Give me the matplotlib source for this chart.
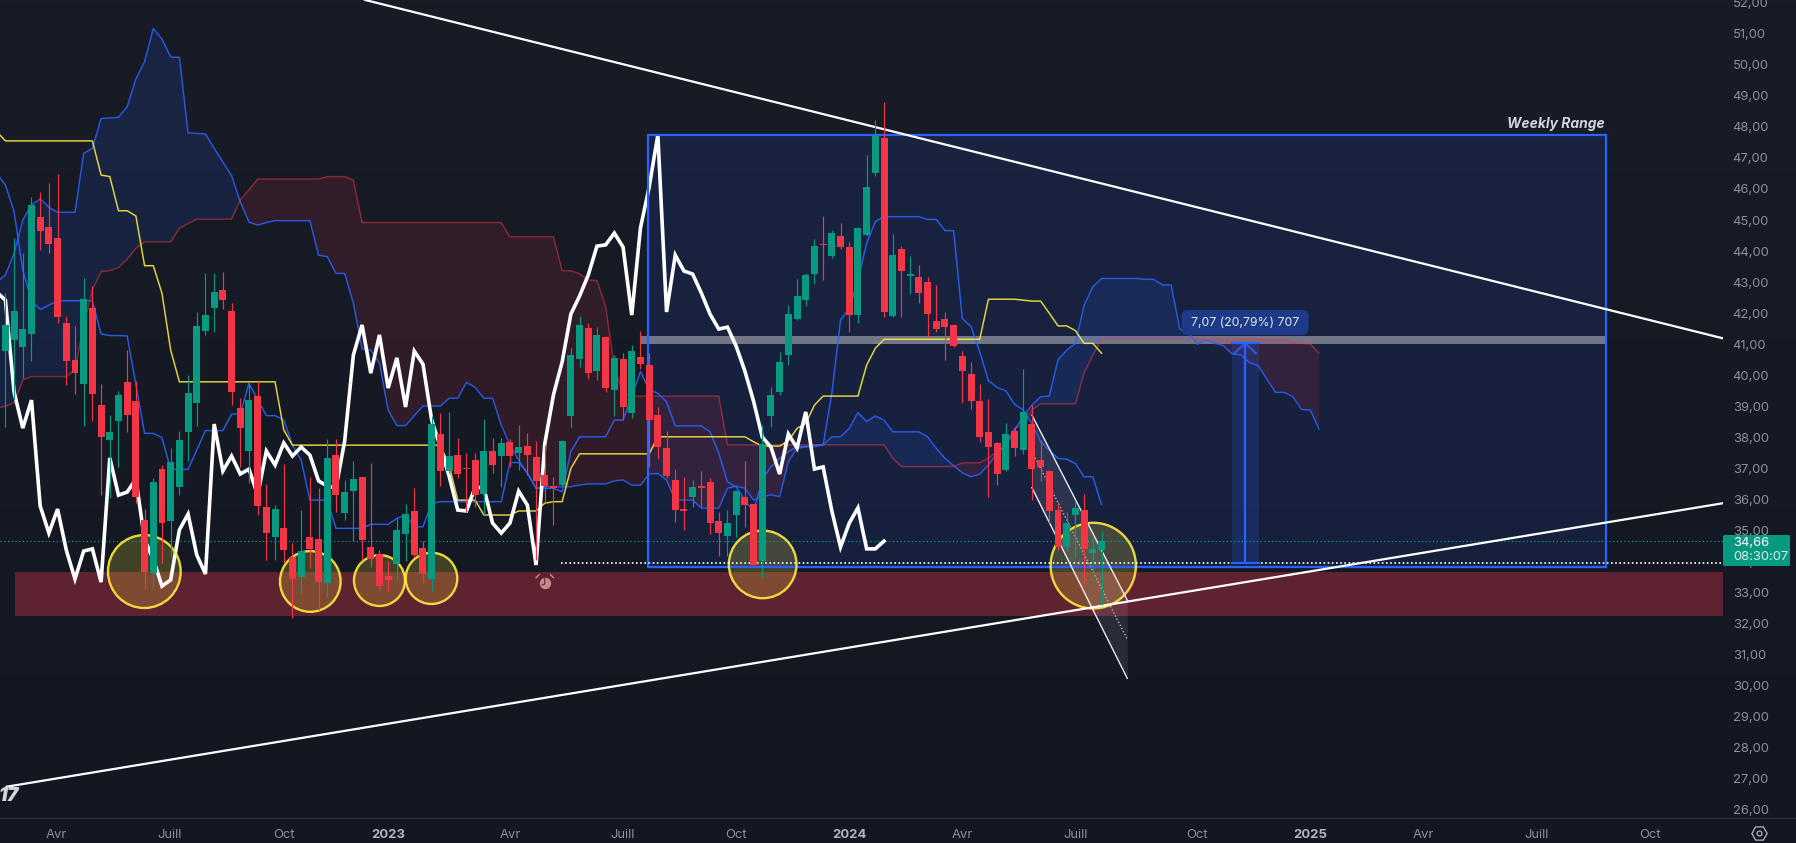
import numpy as np
import matplotlib
matplotlib.use("Agg")
import matplotlib.pyplot as plt
from matplotlib.patches import Ellipse, Rectangle, FancyBboxPatch
from matplotlib.lines import Line2D

plt.rcParams['font.family'] = ['Inter', 'DejaVu Sans']

opens = [40.79,41.14,40.92,41.33,45.11,44.78,44.42,41.68,40.49,39.72,
 42.17,39.04,37.92,38.53,39.78,39.17,35.34,33.63,36.98,35.31,
 36.40,38.17,39.11,41.43,42.17,42.75,42.07,38.95,37.56,39.33,
 35.76,34.79,35.08,34.16,33.50,34.79,34.73,33.31,37.43,35.57,
 36.27,36.72,34.47,34.24,33.54,33.92,34.89,35.63,34.44,33.44,
 38.11,36.92,37.43,37.02,37.27,36.18,37.56,37.40,37.85,37.50,
 37.72,37.37,36.79,36.43,36.47,38.69,40.52,41.52,40.14,41.23,
 39.53,40.52,38.79,40.59,40.33,38.72,37.66,36.63,35.69,36.08,
 36.44,36.56,35.31,34.82,35.50,36.08,35.85,34.02,38.69,39.46,
 40.65,41.81,42.43,43.26,44.23,43.84,44.49,44.13,41.94,44.52,
 46.51,47.64,41.91,44.07,43.20,43.17,43.00,41.75,41.81,41.62,
 40.62,40.04,39.17,38.17,37.82,36.95,38.21,37.59,38.43,37.27,
 36.92,35.66,34.47,35.50,35.66,34.28,34.37]
closes = [41.62,42.07,41.49,45.48,44.65,44.23,41.88,40.47,40.07,42.46,
 39.40,38.01,38.17,39.37,38.72,36.08,33.67,36.56,35.24,37.21,
 37.92,39.43,41.59,41.94,42.68,42.42,39.46,38.30,39.20,35.79,
 34.92,35.69,34.37,33.44,34.34,34.41,33.34,37.34,36.14,36.24,
 36.66,34.70,34.08,33.21,33.41,35.02,35.53,34.21,33.60,38.43,
 36.92,37.40,36.82,36.98,36.14,37.56,37.11,37.82,37.40,37.69,
 37.43,36.60,36.43,36.37,37.88,40.65,41.62,40.07,41.30,39.59,
 40.56,38.98,40.78,40.36,38.56,37.69,36.76,35.66,35.63,36.40,
 36.37,35.24,34.92,35.24,36.27,35.82,33.89,37.79,39.37,40.43,
 41.97,42.55,43.23,44.16,44.20,44.58,44.13,41.94,44.74,46.06,
 47.74,42.04,43.87,43.36,43.26,42.65,41.97,41.49,41.55,40.94,
 40.14,39.17,38.01,37.69,36.82,38.11,37.66,38.82,36.98,37.05,
 35.63,34.47,35.24,35.73,34.41,34.41,34.66]
highs = [42.64,44.41,43.93,45.75,45.91,46.20,46.48,41.91,41.59,43.12,
 42.88,39.72,38.72,39.48,40.81,39.82,35.68,36.69,37.11,37.66,
 38.21,40.01,42.04,43.29,43.29,43.33,42.33,39.27,39.74,39.82,
 36.50,35.82,37.14,34.59,35.66,36.74,36.36,37.95,37.95,36.63,
 37.24,36.74,37.17,34.37,34.02,35.39,35.85,36.37,34.66,38.69,
 38.79,38.82,37.98,37.49,37.51,38.59,37.97,37.97,37.95,38.40,
 38.14,37.88,37.76,36.71,37.91,40.88,41.91,41.68,41.55,41.25,
 40.65,40.72,40.98,41.43,40.72,38.98,38.21,36.98,36.73,36.63,
 36.92,36.69,35.60,35.66,36.31,37.24,35.87,38.40,39.62,40.75,
 42.26,43.10,43.30,44.39,45.13,44.68,44.90,44.29,44.76,47.09,
 48.22,48.80,44.55,44.16,43.84,43.55,43.17,42.91,42.04,41.65,
 40.78,40.43,39.72,39.23,37.85,38.46,38.32,40.20,39.04,37.92,
 36.94,35.92,35.59,35.93,36.18,34.83,34.98]
lows = [38.35,39.20,39.90,40.47,44.03,43.95,41.69,39.69,39.40,38.37,
 38.54,36.14,36.04,37.06,38.18,35.88,33.12,33.12,33.94,34.16,
 36.14,37.25,38.37,41.30,41.39,42.13,39.04,37.06,36.52,35.50,
 34.05,34.05,33.94,32.19,32.98,33.78,32.44,32.82,35.60,35.34,
 34.66,34.05,33.84,33.09,33.05,33.41,34.02,34.16,33.32,33.05,
 36.43,36.84,36.68,35.61,35.77,35.50,36.84,36.41,37.06,36.95,
 36.79,34.05,35.88,35.18,36.43,38.34,40.28,39.88,39.85,39.46,
 38.69,38.56,38.64,40.20,37.06,37.30,36.70,35.29,35.02,35.77,
 35.77,34.89,34.18,34.18,34.80,35.12,33.89,33.51,38.34,39.37,
 40.33,41.78,42.23,42.94,43.07,43.78,44.07,41.39,41.68,44.50,
 46.42,41.88,41.88,41.88,42.62,42.33,41.23,41.39,40.49,40.91,
 39.11,38.91,37.85,36.08,36.47,36.92,37.40,37.47,35.98,36.60,
 35.23,34.37,34.34,34.10,33.25,33.30,32.60]

# Ichimoku lines, first value sits one bar left of the first candle
span_a = [43.00,
 43.23,43.93,45.00,45.49,45.68,45.41,45.25,45.25,45.25,47.15,
 47.31,48.27,48.29,48.31,48.65,49.54,50.10,51.17,50.83,50.25,
 50.24,47.81,47.79,47.77,47.31,46.87,46.43,45.59,44.93,44.84,
 44.92,44.98,44.98,44.98,44.98,44.98,43.87,43.82,43.28,43.28,
 42.32,40.85,40.81,40.39,38.88,38.38,38.38,38.70,39.01,39.01,
 39.01,39.26,39.26,39.77,39.61,39.26,39.26,38.40,37.75,37.27,
 36.84,36.36,36.41,36.41,36.41,36.41,36.47,36.50,36.50,36.50,
 36.60,36.63,36.46,36.46,36.82,36.84,36.63,35.98,35.98,35.98,
 35.72,35.72,35.72,36.36,36.43,36.36,35.98,36.09,36.15,36.09,
 37.22,37.65,37.70,37.76,37.76,38.02,38.02,38.29,38.80,38.51,
 38.69,38.56,38.18,38.18,38.18,38.18,38.02,37.65,37.33,37.09,
 36.86,36.73,36.82,37.11,37.49,37.75,38.24,38.67,39.04,39.31,
 39.33,40.50,40.81,41.03,42.26,42.85,43.12,43.12,43.12,43.12,
 43.12,43.09,43.09,42.91,42.91,41.49,41.38,41.00,41.14,41.03,
 40.96,40.69,40.66,40.41,40.31,39.88,39.45,39.45,39.31,38.90,
 38.88,38.27]
span_b = ([38.95,
 39.00,39.12,39.85,39.96,39.96,39.96,39.96,39.96,40.17,41.62,
 42.75,43.34,43.37,43.47,43.74,44.09,44.30,44.30,44.30,44.30,
 44.73,44.89,45.03,45.03,45.03,45.03,45.03,45.65,45.97]
 + [46.32]*8 + [46.40]*3 + [46.29] + [44.92]*17 + [44.46]*6
 + [43.37,43.37,43.27,43.07,43.05,42.21,40.28,39.42] + [39.33]*11 + [37.76]*19
 + [37.33] + [37.06]*7 + [37.18]*3 + [37.34,37.54,37.75,38.29,38.40,38.88]
 + [39.08]*5 + [40.08,40.65] + [41.16]*22 + [41.08,41.03,41.01,40.71])
tenkan = ([46.50,
 46.13,45.27,43.39,42.42,42.12,42.26,42.40,42.40,42.40,42.40,
 42.40,41.33,41.28,41.28,41.27,39.69,38.13,38.13,37.99,36.97,
 36.97,36.97,37.59,38.22,38.22,38.22,38.75,38.75,39.74,39.22,
 38.70,38.70,38.56,37.75,37.27,35.98,35.98,35.98,35.07,35.07,
 35.07,35.07,35.20,35.20,35.20,35.39,35.50,35.12,35.12,35.87]
 + [35.93]*8 + [37.19,37.19,
 36.86,36.36,36.36,36.36,36.25,37.54,38.02,38.02,38.02,38.02,
 38.56,38.56,39.31,40.12,39.53,39.42,39.15,38.37,38.37,38.37,
 38.37,38.18,37.49,36.57,36.41,35.98,35.61,36.63,37.06,37.33,
 37.54,37.70,37.70,37.70,37.76,39.42,41.78,42.16,43.07,44.25,
 44.95,45.11,45.11,45.11,45.11,45.11,45.02,45.02,44.66,44.66,
 41.83,41.57,40.76,39.83,39.61,39.50,39.07,38.88,38.45,37.86,
 37.59,37.32,37.30,37.16,36.73,36.73,35.84])
kijun = ([47.85] + [47.55]*11 + [46.45,46.40,45.30,45.30,45.13,43.53,43.53,42.64,40.81]
 + [39.79]*12 + [38.24] + [37.75]*18 + [37.11] + [35.98]*3 + [35.50]*4 + [35.63]*3
 + [35.88,35.93,35.93,37.00] + [37.47]*9 + [38.02]*11 + [37.86,37.72,37.72,37.72,37.89,38.29,38.45,39.04]
 + [39.33]*5 + [40.33,40.87] + [41.16]*12 + [42.45]*4
 + [42.42,42.39,42.39,42.00,41.59,41.59,41.44,41.03,41.03,40.71])
lag_shift = 25

price_ticks = list(range(26, 53))
time_ticks = [5.9,18.9,32,44,58,71,84,97,110,123,137,150,163,176,189]
time_labels = ['Avr','Juill','Oct','2023','Avr','Juill','Oct','2024','Avr','Juill','Oct','2025','Avr','Juill','Oct']

# (bar, price, width in bars, height in price)
circles = [(15.97,33.68,8.36,2.35),(35.05,33.36,6.97,1.955),(43.0,33.39,5.86,1.64),
           (48.98,33.46,5.93,1.65),(87.05,33.91,7.78,2.18),(125.05,33.87,9.8,2.76)]
zone_bars = (1.1, 197.44); zone_prices = (32.26, 33.66)
range_bars = (73.9, 184.0); range_prices = (33.84, 47.74)
band_bars = (73.0, 184.0); band_prices = (41.0, 41.27)
res_line = ([41.33, 197.44], [52.09, 41.19])
sup_line = ([0.15, 197.44], [26.75, 35.88])
chan_bars = [118, 128.96]
chan_top = [38.72, 32.76]; chan_mid = [37.55, 31.50]; chan_bot = [36.38, 30.24]
last_price = 34.66; dotted_price = 33.94; dotted_start = 63.9
pos_bars = (140.97, 144.1); pos_x = 142.5; pos_prices = (33.97, 41.04)

BG_TOP, BG_BOT = '#181C27', '#131722'
GREEN, RED, BLUE, YEL = '#089981', '#F23645', '#2962FF', '#FFEB3B'
W, H = 1796, 843
fig = plt.figure(figsize=(W/100, H/100), dpi=100)
fig.patch.set_facecolor(BG_BOT)
bg = fig.add_axes([0, 0, 1, 1], zorder=-1); bg.axis('off')
grad = np.linspace(0, 1, 256)[:, None]
c0 = np.array(matplotlib.colors.to_rgb(BG_TOP)); c1 = np.array(matplotlib.colors.to_rgb(BG_BOT))
bg.imshow(c0[None, None, :]*(1-grad[..., None]*1)+c1[None, None, :]*grad[..., None], aspect='auto', extent=[0, 1, 0, 1])

ax = fig.add_axes([0, (H-818)/H, 1723/W, 818/H])
ax.patch.set_alpha(0)
ax.set_xlim(-0.62, 197.44)
ax.set_ylim(25.742, 52.087)
for s in ax.spines.values():
    s.set_visible(False)

# Zone, rectangles, circles
ax.add_patch(Rectangle((zone_bars[0], zone_prices[0]), zone_bars[1]-zone_bars[0], zone_prices[1]-zone_prices[0],
                       fc='#5E2230', ec='none', zorder=1))
ax.add_patch(Rectangle((range_bars[0], range_prices[0]), range_bars[1]-range_bars[0], range_prices[1]-range_prices[0],
                       fc=BLUE, alpha=0.12, ec='none', zorder=1.1))
ax.add_patch(Rectangle((range_bars[0], range_prices[0]), range_bars[1]-range_bars[0], range_prices[1]-range_prices[0],
                       fc='none', ec=BLUE, lw=1.6, zorder=3.2))
ax.add_patch(Rectangle((band_bars[0], band_prices[0]), band_bars[1]-band_bars[0], band_prices[1]-band_prices[0],
                       fc='#8A8E9C', alpha=0.8, ec='none', zorder=1.3))
for cx, cy, cw, ch in circles:
    ax.add_patch(Ellipse((cx, cy), cw, ch, fc=YEL, alpha=0.2, ec='none', zorder=1.5))
    ax.add_patch(Ellipse((cx, cy), cw, ch, fc='none', ec=YEL, lw=1.7, alpha=0.9, zorder=3.3))

# Price reference lines
ax.axhline(last_price, color=GREEN, lw=0.9, ls=(0, (1, 2)), zorder=1.6)
ax.plot([dotted_start, 197.44], [dotted_price]*2, color='white', lw=1.2, ls=(0, (1, 1.5)), zorder=3.4)

# Ichimoku
xa = np.arange(len(span_a)) - 1
a = np.array(span_a); b = np.array(span_b)
ax.fill_between(xa, a, b, where=a >= b, interpolate=True, color=BLUE, alpha=0.13, lw=0, zorder=1.7)
ax.fill_between(xa, a, b, where=b >= a, interpolate=True, color='#C2293E', alpha=0.16, lw=0, zorder=1.7)
ax.plot(xa, a, color=BLUE, lw=1.05, alpha=0.85, zorder=2)
ax.plot(xa, b, color=RED, lw=1.05, alpha=0.5, zorder=2)
ax.plot(np.arange(len(tenkan))-1, tenkan, color=BLUE, lw=1.05, alpha=0.9, zorder=2)
ax.plot(np.arange(len(kijun))-1, kijun, color=YEL, lw=1.05, alpha=0.9, zorder=2)
xs = np.arange(len(closes))
ax.plot(xs-lag_shift, closes, color='white', lw=2.6, zorder=3, solid_joinstyle='miter')

# Channel
ax.fill_between(chan_bars, chan_top, chan_bot, color='white', alpha=0.09, lw=0, zorder=1.8)
ax.plot(chan_bars, chan_top, color='white', lw=1.0, alpha=0.9, zorder=3.5)
ax.plot(chan_bars, chan_bot, color='white', lw=1.0, alpha=0.9, zorder=3.5)
ax.plot(chan_bars, chan_mid, color='#B2B5BE', lw=1.0, ls=(0, (1, 1.5)), zorder=3.5)

# Trend lines
ax.plot(*res_line, color='white', lw=1.6, zorder=3.6, clip_on=True)
ax.plot(*sup_line, color='white', lw=1.6, zorder=3.6)

# Candles
o = np.array(opens); c = np.array(closes)
cols = [GREEN if cc >= oo else RED for oo, cc in zip(o, c)]
ax.vlines(xs, lows, highs, colors=cols, lw=0.85, zorder=5)
ax.bar(xs, np.abs(c-o), bottom=np.minimum(o, c), width=0.8, color=cols, lw=0, zorder=5.1)

# Measure tool
ax.add_patch(Rectangle((pos_bars[0], pos_prices[0]), pos_bars[1]-pos_bars[0], pos_prices[1]-pos_prices[0],
                       fc=BLUE, alpha=0.18, ec='none', zorder=1.9))
ax.plot([pos_x, pos_x], pos_prices, color=BLUE, lw=1.6, zorder=4, solid_capstyle='butt')
ax.plot(pos_bars, [pos_prices[0]]*2, color=BLUE, lw=1.6, zorder=4)
ax.plot(pos_bars, [pos_prices[1]]*2, color=BLUE, lw=1.6, zorder=4)
ax.plot([pos_x-1.23, pos_x, pos_x+1.23], [pos_prices[1]-0.33, pos_prices[1], pos_prices[1]-0.33],
        color=BLUE, lw=1.6, alpha=0.8, zorder=4)

ax.add_patch(FancyBboxPatch((135.2, 41.3), 14.6, 0.8, boxstyle='round,pad=0,rounding_size=0.6',
                            mutation_aspect=0.36, fc='#1C3A87', ec='none', zorder=6))
ax.text(142.5, 41.7, '7,07 (20,79%) 707', color='#E6E8EE', fontsize=8.8, ha='center', va='center', zorder=7)
ax.text(183.9, 48.08, 'Weekly Range', color='#D1D4DC', fontsize=10, fontweight='bold', style='italic',
        ha='right', va='center', zorder=7)

# Alarm icon
ALARM = '#C58B92'
ax.plot([62.0], [33.32], marker='o', ms=8.2, mfc=ALARM, mec='none', zorder=4)
ax.plot([62.0, 62.0, 61.7], [33.45, 33.28, 33.25], color='#5E2230', lw=0.8, zorder=4.1)
ax.plot([61.0, 61.35], [33.48, 33.58], color=ALARM, lw=1.0, zorder=4)
ax.plot([63.0, 62.65], [33.48, 33.58], color=ALARM, lw=1.0, zorder=4)

# Axes labels
ax.yaxis.tick_right()
ax.set_yticks(price_ticks)
ax.set_yticklabels([f'{t},00' for t in price_ticks], fontsize=9.4, color='#8C8F9A')
ax.set_xticks(time_ticks)
ax.set_xticklabels(time_labels, fontsize=9.4, color='#8C8F9A')
for lab in ax.get_xticklabels():
    if lab.get_text().isdigit():
        lab.set_fontweight('bold'); lab.set_color('#B2B5BE')
ax.tick_params(axis='both', length=0)
ax.tick_params(axis='y', pad=7)
ax.tick_params(axis='x', pad=8)

# Last price tag
tag = fig.add_axes([1723/W, (H-566)/H, 67/W, 31/H], zorder=5)
tag.set_xlim(0, 67); tag.set_ylim(31, 0); tag.axis('off')
tag.add_patch(FancyBboxPatch((0, 0), 67, 31, boxstyle='round,pad=0,rounding_size=1.5', fc=GREEN, ec='none', clip_on=False))
tag.text(10, 7.5, '34,66', color='white', fontsize=9.4, va='center', ha='left')
tag.text(10, 22, '08:30:07', color='#D5EEE9', fontsize=9.4, va='center', ha='left')

# Interface bits
fig.add_artist(Line2D([0, 1], [(H-818)/H]*2, color='#2A2E39', lw=0.9))
fig.text(-1/W, (H-796)/H, '17', color='#D1D4DC', fontsize=14, fontweight='black', style='italic', va='center', ha='left')
ui = fig.add_axes([0, 0, 1, 1], zorder=6); ui.set_xlim(0, W); ui.set_ylim(H, 0); ui.axis('off')
ui.plot([1759], [832.7], marker='H', ms=11, mfc='none', mec='#B2B5BE', mew=0.9)
ui.plot([1759], [832.7], marker='o', ms=3.5, mfc='none', mec='#B2B5BE', mew=0.9)

fig.savefig('out.png', dpi=100, facecolor=fig.get_facecolor())
